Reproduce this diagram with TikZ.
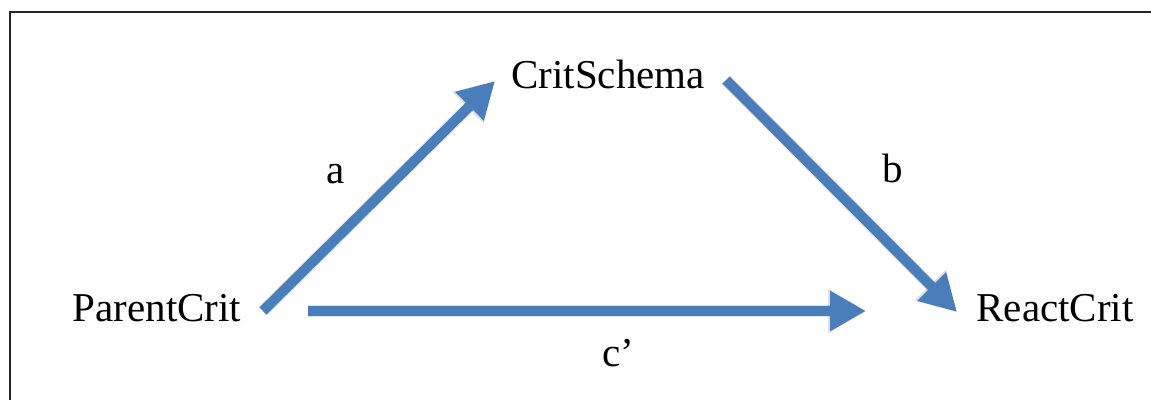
\documentclass[tikz,border=0pt]{standalone}
\usepackage{fontspec}
\setmainfont{Liberation Serif}
\usetikzlibrary{arrows.meta}
\definecolor{arrowblue}{RGB}{74,126,187}
\begin{document}
\begin{tikzpicture}[x=1pt,y=-1pt,
  lbl/.style={anchor=base,inner sep=0pt,font=\fontsize{41}{41}\selectfont},
  arr/.style={draw=arrowblue,line width=10pt,-{Triangle[length=36pt,width=38pt]},color=arrowblue},
  shadowarr/.style={draw=black,opacity=0.12,line width=12pt,-{Triangle[length=38pt,width=42pt]},color=black},
  frame/.style={draw=black!85,line width=2pt}]
\useasboundingbox (0,0) rectangle (1151,399);
\draw[frame] (10,420) -- (10,12) -- (1170,12);
% nodes
\node[lbl] (pc) at (157,321) {ParentCrit};
\node[lbl] (rc) at (1055,321) {ReactCrit};
\node[lbl] (cs) at (608,88) {CritSchema};
\node[lbl] (la) at (336,183) {a};
\node[lbl] (lb) at (893,182) {b};
\node[lbl] (lc) at (618,366) {c’};
% arrow end points
\coordinate (a1) at (263,311);
\coordinate (a2) at (495,81);
\coordinate (b1) at (726,80);
\coordinate (b2) at (957,312);
\coordinate (c1) at (308,311);
\coordinate (c2) at (866,311);
% shadows
\begin{scope}[shift={(2,4)}]
\draw[shadowarr] (a1) -- (a2);
\draw[shadowarr] (b1) -- (b2);
\draw[shadowarr] (c1) -- (c2);
\end{scope}
% arrows
\draw[arr] (a1) -- (a2);
\draw[arr] (b1) -- (b2);
\draw[arr] (c1) -- (c2);
\end{tikzpicture}
\end{document}
